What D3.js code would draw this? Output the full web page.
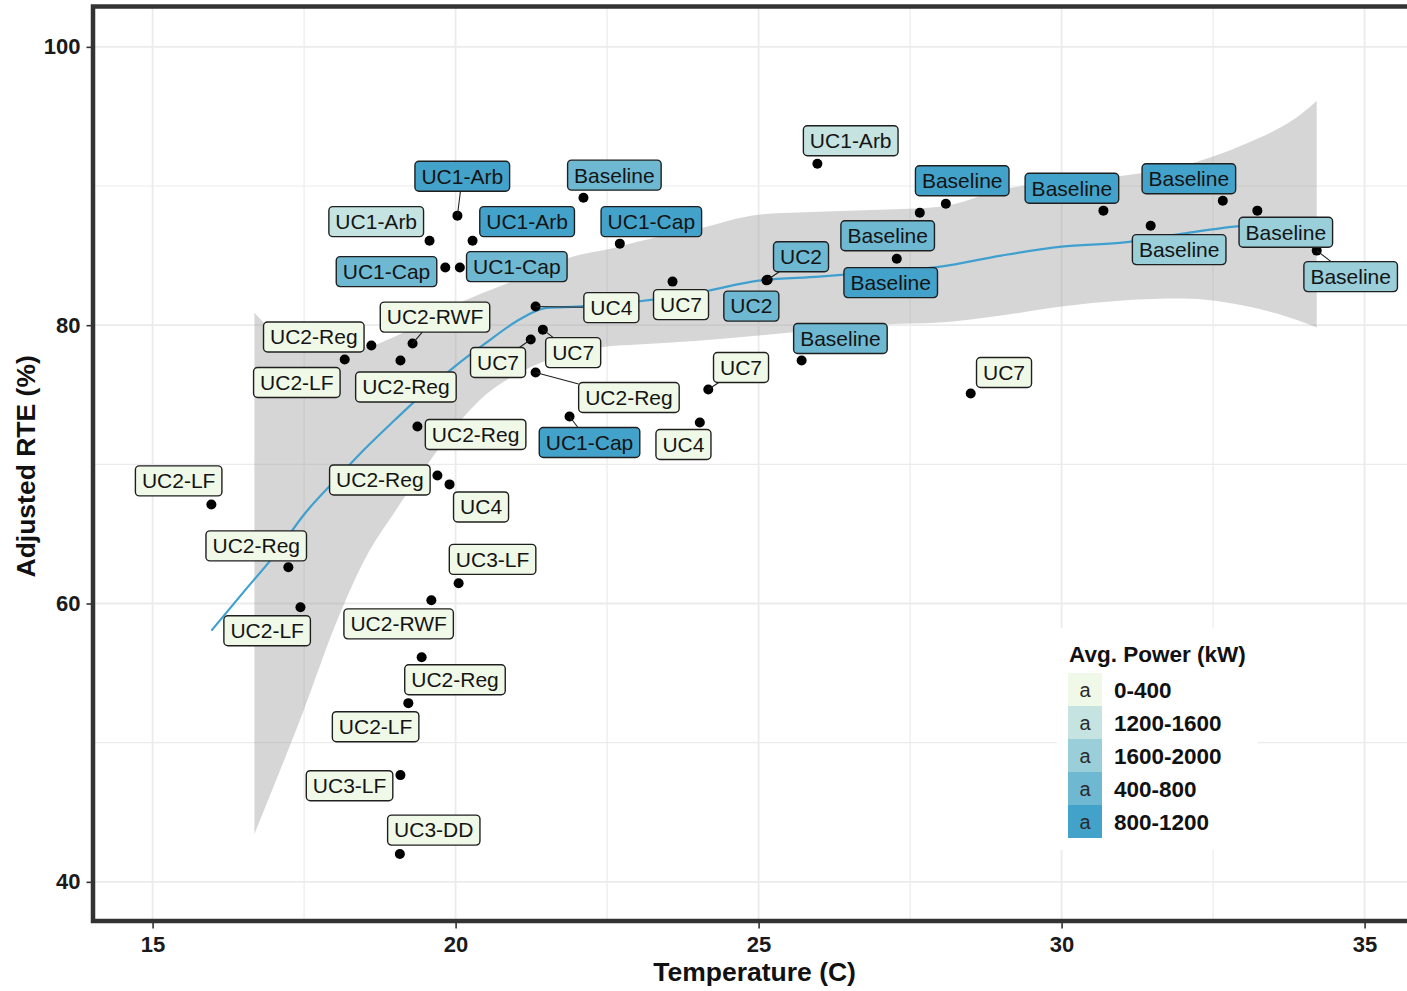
<!DOCTYPE html>
<html>
<head>
<meta charset="utf-8">
<script src="https://cdn.jsdelivr.net/npm/d3@7"></script>
<style>
  body { margin: 0; background: #fff; }
  svg { display: block; }
</style>
</head>
<body>
<svg id="chart" width="1407" height="991"></svg>
<script>
// ---- data -------------------------------------------------------------
const scenario = [
  "UC1-Arb", "UC1-Arb", "Baseline", "UC1-Arb", "UC1-Arb", "UC1-Cap", "UC1-Cap", "UC1-Cap",
  "Baseline", "Baseline", "Baseline", "Baseline", "UC2", "Baseline", "Baseline", "Baseline",
  "Baseline", "UC4", "UC7", "UC2", "UC2-RWF", "UC2-Reg", "UC7", "UC7",
  "Baseline", "UC7", "UC7", "UC2-LF", "UC2-Reg", "UC2-Reg", "UC2-Reg", "UC1-Cap",
  "UC4", "UC2-LF", "UC2-Reg", "UC4", "UC2-Reg", "UC3-LF", "UC2-LF", "UC2-RWF",
  "UC2-Reg", "UC2-LF", "UC3-LF", "UC3-DD"
];
const temperature = [
  25.97, 20.03, 22.11, 19.57, 20.28, 22.71, 19.83, 20.07,
  28.09, 30.69, 32.66, 27.66, 25.15, 31.47, 33.23, 27.28,
  34.21, 21.32, 23.58, 25.13, 19.29, 18.61, 21.44, 21.24,
  25.71, 24.17, 28.50, 18.17, 19.09, 21.32, 19.37, 21.88,
  24.03, 15.97, 19.70, 19.90, 17.24, 20.05, 17.44, 19.60,
  19.44, 19.22, 19.09, 19.08
];
const rte = [
  91.60, 87.87, 89.16, 86.07, 86.07, 85.86, 84.14, 84.14,
  88.73, 88.23, 88.94, 88.08, 83.27, 87.15, 88.23, 84.78,
  85.36, 81.34, 83.13, 83.22, 78.68, 78.54, 79.68, 78.97,
  77.46, 75.38, 75.09, 77.53, 77.46, 76.60, 72.72, 73.44,
  73.01, 67.12, 69.20, 68.56, 62.60, 61.45, 59.73, 60.23,
  56.14, 52.84, 47.67, 42.00
];
const power = [
  "1200-1600", "800-1200", "400-800", "1200-1600", "800-1200", "800-1200", "400-800", "400-800",
  "800-1200", "800-1200", "800-1200", "400-800", "400-800", "1600-2000", "1600-2000", "800-1200",
  "1600-2000", "0-400", "0-400", "400-800", "0-400", "0-400", "0-400", "0-400",
  "400-800", "0-400", "0-400", "0-400", "0-400", "0-400", "0-400", "800-1200",
  "0-400", "0-400", "0-400", "0-400", "0-400", "0-400", "0-400", "0-400",
  "0-400", "0-400", "0-400", "0-400"
];
// repelled label anchors (label centre, in data units)
const labelTemp = [
  26.52, 20.11, 22.62, 18.69, 21.18, 23.23, 18.86, 21.01,
  28.36, 30.17, 32.10, 27.13, 25.70, 31.94, 33.70, 27.18,
  34.77, 22.57, 23.72, 24.88, 19.66, 17.66, 21.94, 20.70,
  26.35, 24.71, 29.05, 17.38, 19.18, 22.86, 20.33, 22.21,
  23.76, 15.43, 18.75, 20.42, 16.71, 20.61, 16.89, 19.06,
  19.99, 18.68, 18.25, 19.64
];
const labelRte = [
  93.25, 90.70, 90.78, 87.44, 87.44, 87.44, 83.85, 84.21,
  90.38, 89.84, 90.52, 86.43, 84.92, 85.43, 86.68, 83.06,
  83.49, 81.26, 81.48, 81.37, 80.58, 79.15, 78.03, 77.32,
  79.04, 76.96, 76.60, 75.88, 75.56, 74.80, 72.15, 71.57,
  71.43, 68.81, 68.88, 66.94, 64.14, 63.17, 58.04, 58.54,
  54.52, 51.15, 46.91, 43.72
];
// labels joined to their point by a leader segment
const leaderLines = [1, 12, 16, 17, 20, 22, 23, 25, 29, 31];

const powerLevels = ["0-400", "1200-1600", "1600-2000", "400-800", "800-1200"];

// loess fit and its confidence band
const fitTemp = [15.97, 16.5, 17, 17.5, 18, 18.5, 19, 19.5, 20, 20.5, 21, 21.5, 22, 22.5,
  23, 24, 25, 26, 27, 28, 29, 30, 31, 32, 33, 34, 34.21];
const fitRte = [58.05, 60.82, 63.41, 66.40, 68.80, 71.10, 73.20, 75.23, 77.08, 78.72, 80.26,
  81.24, 81.33, 81.48, 81.70, 82.34, 83.20, 83.49, 83.85, 84.21, 85.00, 85.64, 85.93, 86.58,
  87.15, 87.44, 87.50];
const bandTemp = [16.68, 17, 17.5, 18, 18.5, 19, 19.5, 20, 20.5, 21, 21.5, 22, 22.5, 23,
  24, 25, 26, 27, 28, 29, 30, 31, 32, 33, 34, 34.21];
const bandHigh = [80.90, 79.54, 78.61, 78.25, 78.39, 79.18, 80.26, 81.48, 82.41, 83.27, 84.28,
  85.00, 85.43, 86.00, 86.93, 87.94, 88.15, 88.30, 88.51, 89.73, 90.38, 90.74, 91.46, 92.96,
  95.33, 96.12];
const bandLow = [43.43, 46.88, 52.40, 58.29, 63.17, 66.62, 69.78, 72.72, 75.02, 76.46, 77.46,
  78.10, 78.46, 78.61, 78.89, 79.25, 79.68, 80.04, 80.19, 80.69, 81.34, 81.77, 81.91, 81.41,
  80.19, 79.83];

const xTicks = [15, 20, 25, 30, 35];
const xMinor = [17.5, 22.5, 27.5, 32.5];
const yTicks = [40, 60, 80, 100];
const yMinor = [50, 70, 90];

// ---- layout -----------------------------------------------------------
const FONT = "'Liberation Sans', Arial, Helvetica, sans-serif";
const svg = d3.select("#chart");

const x = d3.scaleLinear().domain([14, 36]).range([92, 1425.2]);
const y = d3.scaleLinear().domain([37, 103]).range([923.6, 5.1]);

const fillColour = d3.scaleOrdinal()
  .domain(powerLevels)
  .range(d3.quantize(d3.interpolateRgb("#f0f9e8", "#43a2ca"), powerLevels.length));

const [px0, px1] = x.range();
const [py1, py0] = y.range();

svg.append("defs").append("clipPath").attr("id", "panel-clip")
  .append("rect").attr("x", px0).attr("y", py0)
  .attr("width", px1 - px0).attr("height", py1 - py0);

const panel = svg.append("g").attr("clip-path", "url(#panel-clip)");

// grid
const grid = panel.append("g").attr("stroke", "#ebebeb").attr("fill", "none");
grid.selectAll(".gx-minor").data(xMinor).join("line").attr("class", "gx-minor")
  .attr("x1", d => x(d)).attr("x2", d => x(d)).attr("y1", py0).attr("y2", py1)
  .attr("stroke-width", 1.2);
grid.selectAll(".gy-minor").data(yMinor).join("line").attr("class", "gy-minor")
  .attr("x1", px0).attr("x2", px1).attr("y1", d => y(d)).attr("y2", d => y(d))
  .attr("stroke-width", 1.2);
grid.selectAll(".gx").data(xTicks).join("line").attr("class", "gx")
  .attr("x1", d => x(d)).attr("x2", d => x(d)).attr("y1", py0).attr("y2", py1)
  .attr("stroke-width", 1.8);
grid.selectAll(".gy").data(yTicks).join("line").attr("class", "gy")
  .attr("x1", px0).attr("x2", px1).attr("y1", d => y(d)).attr("y2", d => y(d))
  .attr("stroke-width", 1.8);

// confidence band
const band = bandTemp.map((t, i) => ({ t, lo: bandLow[i], hi: bandHigh[i] }));
panel.append("path")
  .datum(band)
  .attr("fill", "#999999").attr("fill-opacity", 0.4)
  .attr("d", d3.area().curve(d3.curveMonotoneX)
    .x(d => x(d.t)).y0(d => y(d.lo)).y1(d => y(d.hi)));

// fitted curve
const fit = fitTemp.map((t, i) => ({ t, v: fitRte[i] }));
panel.append("path")
  .datum(fit)
  .attr("fill", "none").attr("stroke", "#3fa0cf").attr("stroke-width", 2.2)
  .attr("d", d3.line().curve(d3.curveMonotoneX).x(d => x(d.t)).y(d => y(d.v)));

// records
const rows = scenario.map((s, i) => ({
  i, s, t: temperature[i], v: rte[i], p: power[i], lt: labelTemp[i], lv: labelRte[i],
  leader: leaderLines.includes(i)
}));

panel.append("g").selectAll("circle").data(rows).join("circle")
  .attr("cx", d => x(d.t)).attr("cy", d => y(d.v)).attr("r", 5)
  .attr("fill", "#000");

// labels
const LABEL_H = 30, PAD = 6.5;
const labelLayer = panel.append("g");
const segLayer = labelLayer.append("g");
const boxLayer = labelLayer.append("g");

const groups = boxLayer.selectAll("g").data(rows).join("g")
  .attr("transform", d => `translate(${x(d.lt)},${y(d.lv)})`);
const rects = groups.append("rect");
const texts = groups.append("text")
  .attr("text-anchor", "middle").attr("dy", "0.35em")
  .attr("font-family", FONT).attr("font-size", 21).attr("fill", "#141414")
  .text(d => d.s);

texts.each(function (d) { d.w = this.getComputedTextLength() + 2 * PAD; });

rects
  .attr("x", d => -d.w / 2).attr("y", -LABEL_H / 2)
  .attr("width", d => d.w).attr("height", LABEL_H)
  .attr("rx", 4).attr("ry", 4)
  .attr("fill", d => fillColour(d.p))
  .attr("stroke", "#1f1f1f").attr("stroke-width", 1.4);

// leader segment: from the point toward the label centre, stopping at the box edge
function boxHit(d) {
  const ax = x(d.t), ay = y(d.v), cx = x(d.lt), cy = y(d.lv);
  const dx = cx - ax, dy = cy - ay;
  const hx = d.w / 2, hy = LABEL_H / 2;
  const tx = dx !== 0 ? Math.min((cx - hx - ax) / dx, (cx + hx - ax) / dx) : -Infinity;
  const ty = dy !== 0 ? Math.min((cy - hy - ay) / dy, (cy + hy - ay) / dy) : -Infinity;
  const t = Math.max(tx, ty, 0);
  return [ax + dx * t, ay + dy * t];
}
segLayer.selectAll("line").data(rows.filter(d => d.leader)).join("line")
  .attr("x1", d => x(d.t)).attr("y1", d => y(d.v))
  .attr("x2", d => boxHit(d)[0]).attr("y2", d => boxHit(d)[1])
  .attr("stroke", "#1f1f1f").attr("stroke-width", 1.1);

// panel border
svg.append("rect")
  .attr("x", px0 + 1).attr("y", py0 + 1.4)
  .attr("width", px1 - px0 + 20).attr("height", py1 - py0 - 4)
  .attr("fill", "none").attr("stroke", "#333333").attr("stroke-width", 4.5);

// axes
const yAxis = svg.append("g").attr("transform", `translate(${px0},0)`)
  .call(d3.axisLeft(y).tickValues(yTicks).tickSize(5.5).tickPadding(6).tickFormat(d3.format("d")));
const xAxis = svg.append("g").attr("transform", `translate(0,${py1 - 1})`)
  .call(d3.axisBottom(x).tickValues(xTicks).tickSize(6).tickPadding(7.5).tickFormat(d3.format("d")));
[xAxis, yAxis].forEach(a => {
  a.select(".domain").remove();
  a.selectAll(".tick line").attr("stroke", "#333333").attr("stroke-width", 1.6);
  a.selectAll(".tick text").attr("font-family", FONT).attr("font-size", 22)
    .attr("font-weight", "bold").attr("fill", "#1a1a1a");
});

svg.append("text")
  .attr("x", (px0 + px1) / 2 - 4).attr("y", 981)
  .attr("text-anchor", "middle")
  .attr("font-family", FONT).attr("font-size", 26.5).attr("font-weight", "bold")
  .attr("fill", "#111")
  .text("Temperature (C)");

svg.append("text")
  .attr("transform", `translate(35,${(py0 + py1) / 2 + 2}) rotate(-90)`)
  .attr("text-anchor", "middle")
  .attr("font-family", FONT).attr("font-size", 26.5).attr("font-weight", "bold")
  .attr("fill", "#111")
  .text("Adjusted RTE (%)");

// legend
const legend = svg.append("g").attr("transform", "translate(1057,628)");
legend.append("rect").attr("width", 201).attr("height", 222).attr("fill", "#fff");
legend.append("text").attr("x", 12).attr("y", 34)
  .attr("font-family", FONT).attr("font-size", 22.5).attr("font-weight", "bold")
  .attr("fill", "#111").text("Avg. Power (kW)");
const KEY = 33;
const keys = legend.selectAll(".key").data(powerLevels).join("g").attr("class", "key")
  .attr("transform", (d, i) => `translate(11,${45 + i * KEY})`);
keys.append("rect").attr("width", 34).attr("height", KEY).attr("fill", d => fillColour(d));
keys.append("text").attr("x", 17).attr("y", KEY / 2).attr("dy", "0.38em")
  .attr("text-anchor", "middle").attr("font-family", FONT).attr("font-size", 20)
  .attr("fill", "#2a2a2a").text("a");
keys.append("text").attr("x", 46).attr("y", KEY / 2).attr("dy", "0.36em")
  .attr("font-family", FONT).attr("font-size", 22.5).attr("font-weight", "bold")
  .attr("fill", "#111").text(d => d);
</script>
</body>
</html>
